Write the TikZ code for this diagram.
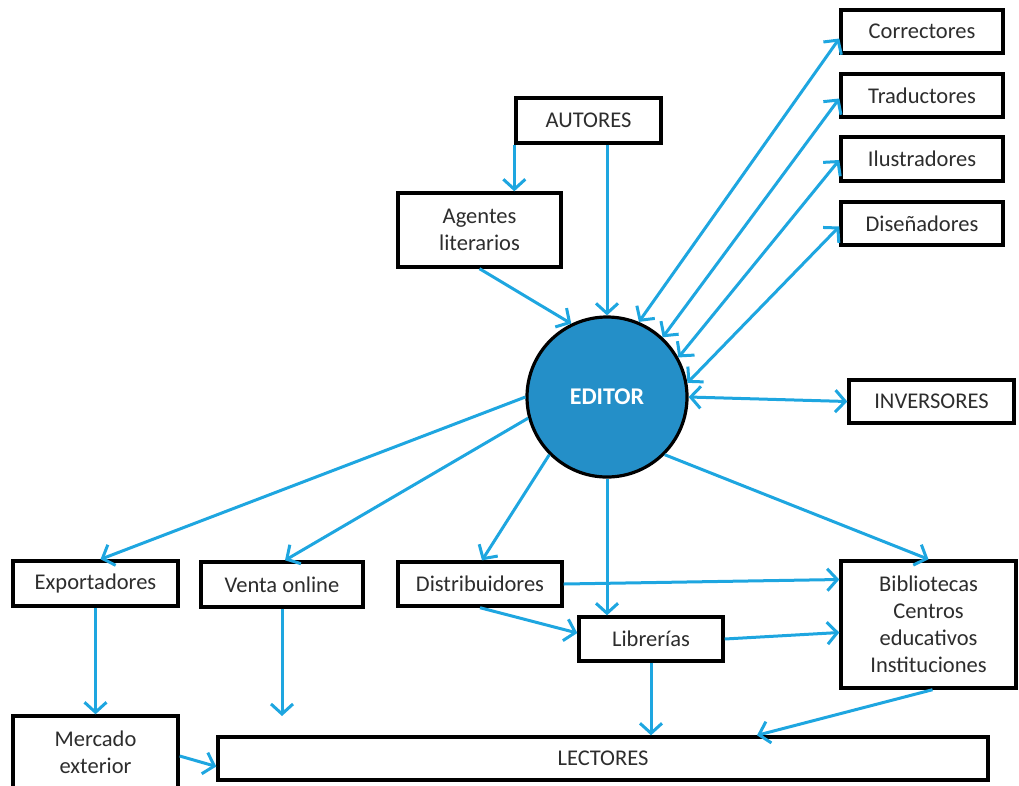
\documentclass[tikz,border=0pt]{standalone}
\usepackage{fontspec}
\setmainfont{Carlito}
\usetikzlibrary{arrows.meta,calc}
\definecolor{arr}{RGB}{30,166,224}
\definecolor{edfill}{RGB}{36,143,200}
\definecolor{txt}{RGB}{45,45,45}
\begin{document}
\begin{tikzpicture}[x=1pt,y=-1pt,
  box/.style={draw=black,line width=3.4pt,fill=white,inner sep=0pt,align=center,text=txt,font=\fontsize{22.5}{27}\selectfont},
  tip/.tip={Straight Barb[length=10pt,width=22pt,line width=3pt]},
  conn/.style={draw=arr,line width=3pt,-tip},
  both/.style={draw=arr,line width=3pt,tip-tip}]
\useasboundingbox (0,0) rectangle (1019,785);
% nodes
\node[box,minimum width=162pt,minimum height=43pt] (corr) at (922,31.5) {Correctores};
\node[box,minimum width=162pt,minimum height=43pt] (trad) at (922,95.5) {Traductores};
\node[box,minimum width=162pt,minimum height=44pt] (ilus) at (922,159) {Ilustradores};
\node[box,minimum width=162pt,minimum height=43pt] (dise) at (922,223.5) {Diseñadores};
\node[box,minimum width=165pt,minimum height=43pt] (inv) at (931.5,401.5) {INVERSORES};
\node[box,minimum width=145pt,minimum height=45pt] (aut) at (588.5,120.5) {AUTORES};
\node[box,minimum width=163pt,minimum height=74pt] (agen) at (479.5,230) {Agentes\\literarios};
\node[box,minimum width=165pt,minimum height=45pt] (exp) at (95.5,583.5) {Exportadores};
\node[box,minimum width=162pt,minimum height=45pt] (vent) at (282,584.5) {Venta online};
\node[box,minimum width=164pt,minimum height=44pt] (dist) at (480,584) {Distribuidores};
\node[box,minimum width=144pt,minimum height=44pt] (libr) at (651,639) {Librerías};
\node[box,minimum width=175pt,minimum height=127pt] (bibl) at (928.5,624.5) {Bibliotecas\\Centros\\educativos\\Instituciones};
\node[box,minimum width=165pt,minimum height=72pt] (merc) at (95.5,752) {Mercado\\exterior};
\node[box,minimum width=770pt,minimum height=43pt] (lect) at (603,758.5) {LECTORES};
\node[circle,draw=black,line width=3.2pt,fill=edfill,minimum size=160pt,inner sep=0pt,text=white,font=\bfseries\fontsize{24}{28}\selectfont] (ed) at (607,397) {EDITOR};
\coordinate (ventend) at (282,716);
% connectors
\draw[conn] (aut.south west) -- (aut.south west |- agen.north);
\draw[conn] (aut.south -| ed.north) -- (ed.north);
\draw[conn] (agen.south) -- (ed.116);
\draw[both] (ed.67) -- ($(corr.west)+(0,7)$);
\draw[both] (ed.47) -- ($(trad.west)+(0,3)$);
\draw[both] (ed.29) -- ($(ilus.west)+(0,1)$);
\draw[both] (ed.10) -- ($(dise.west)+(0,3)$);
\draw[both] (ed.east) -- (inv.west);
\draw[conn] (ed.180) -- ($(exp.north)+(5,0)$);
\draw[conn] (ed.195) -- ($(vent.north)+(3,0)$);
\draw[conn] (ed.225) -- ($(dist.north)+(2,0)$);
\draw[conn] (ed.south) -- (ed.south |- libr.north);
\draw[conn] (ed.315) -- (bibl.north);
\draw[conn] (dist.east) -- ($(bibl.west)+(0,-45)$);
\draw[conn] (dist.south) -- ($(libr.west)+(0,-6)$);
\draw[conn] (libr.east) -- ($(bibl.west)+(0,8)$);
\draw[conn] (libr.south) -- (libr.south |- lect.north);
\draw[conn] ($(bibl.south)+(4,0)$) -- ($(lect.north)+(154,0)$);
\draw[conn] (exp.south) -- (merc.north);
\draw[conn] (vent.south) -- (ventend);
\draw[conn] ($(merc.east)+(0,4)$) -- ($(lect.west)+(0,8)$);
\end{tikzpicture}
\end{document}
